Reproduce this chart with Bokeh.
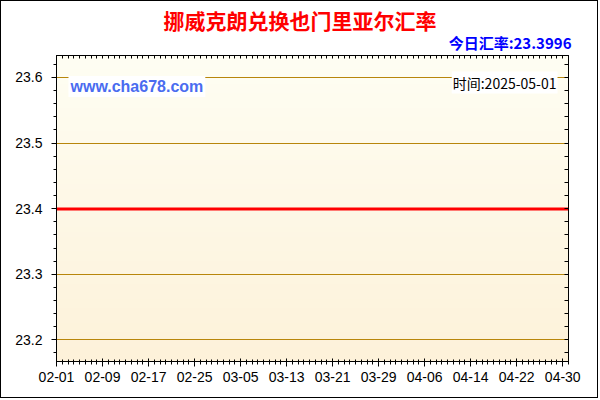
import numpy as np
import pandas as pd
from bokeh.plotting import figure
from bokeh.models import FixedTicker, LinearAxis, Label, Range1d, Title
from bokeh.embed import file_html
from bokeh.resources import INLINE

# ---------------- data ----------------
title_text = "挪威克朗兑换也门里亚尔汇率"
today_text = "今日汇率:23.3996"
site_text = "www.cha678.com"
time_text = "时间:2025-05-01"

dates = [d.strftime("%m-%d") for d in pd.date_range("2025-02-01", "2025-05-01")]
rates = [
    23.3996, 23.3996, 23.3996, 23.3996, 23.3996, 23.3996, 23.3996, 23.3996, 23.3996, 23.3996,
    23.3996, 23.3996, 23.3996, 23.3996, 23.3996, 23.3996, 23.3996, 23.3996, 23.3996, 23.3996,
    23.3996, 23.3996, 23.3996, 23.3996, 23.3996, 23.3996, 23.3996, 23.3996, 23.3996, 23.3996,
    23.3996, 23.3996, 23.3996, 23.3996, 23.3996, 23.3996, 23.3996, 23.3996, 23.3996, 23.3996,
    23.3996, 23.3996, 23.3996, 23.3996, 23.3996, 23.3996, 23.3996, 23.3996, 23.3996, 23.3996,
    23.3996, 23.3996, 23.3996, 23.3996, 23.3996, 23.3996, 23.3996, 23.3996, 23.3996, 23.3996,
    23.3996, 23.3996, 23.3996, 23.3996, 23.3996, 23.3996, 23.3996, 23.3996, 23.3996, 23.3996,
    23.3996, 23.3996, 23.3996, 23.3996, 23.3996, 23.3996, 23.3996, 23.3996, 23.3996, 23.3996,
    23.3996, 23.3996, 23.3996, 23.3996, 23.3996, 23.3996, 23.3996, 23.3996, 23.3996, 23.3996,
]
x_tick_labels = ["02-01", "02-09", "02-17", "02-25", "03-05", "03-13",
                 "03-21", "03-29", "04-06", "04-14", "04-22", "04-30"]
y_ticks = [23.2, 23.3, 23.4, 23.5, 23.6]
y_minor = [23.18, 23.20, 23.22, 23.24, 23.26, 23.28, 23.30, 23.32, 23.34, 23.36, 23.38,
           23.40, 23.42, 23.44, 23.46, 23.48, 23.50, 23.52, 23.54, 23.56, 23.58, 23.60, 23.62]

# ---------------- layout ----------------
W, H = 598, 398          # plus a 1px css border -> 600 x 400
OFF = 1                  # border offset
ML, MR, MT, MB = 55, 31, 54, 38
X0, X1 = 0, 89
Y0, Y1 = 23.167, 23.6335

day_idx = list(range(len(dates)))
x_ticks = [dates.index(lbl) for lbl in x_tick_labels]

p = figure(width=W, height=H, output_backend="svg", toolbar_location=None,
           x_range=Range1d(X0, X1), y_range=Range1d(Y0, Y1),
           min_border_left=ML, min_border_right=MR, min_border_top=MT, min_border_bottom=MB,
           border_fill_color="white", background_fill_color="#FEF9E8",
           outline_line_color="black", outline_line_width=1)
p.title = None
p.styles = {"border": "1px solid black"}

# background gradient
n = 64
top = np.array([255, 254, 243])
bot = np.array([253, 242, 218])
img = np.zeros((n, 1), dtype=np.uint32)
view = img.view(dtype=np.uint8).reshape((n, 1, 4))
for i in range(n):
    t = i / (n - 1)  # row 0 = bottom
    c = bot * (1 - t) + top * t
    view[i, 0, 0:3] = c.astype(np.uint8)
    view[i, 0, 3] = 255
p.image_rgba(image=[img], x=X0, y=Y0, dw=X1 - X0, dh=Y1 - Y0, level="image")

# line
p.line(day_idx, rates, line_color="#FF0000", line_width=3)

# grids
p.xgrid.visible = False
p.ygrid.ticker = FixedTicker(ticks=y_ticks)
p.ygrid.grid_line_color = "#B8860B"
p.ygrid.grid_line_width = 1

xt = FixedTicker(ticks=x_ticks, minor_ticks=day_idx)
yt = FixedTicker(ticks=y_ticks, minor_ticks=y_minor)

lab_font = "Liberation Sans"
xa = p.xaxis[0]
xa.ticker = xt
xa.major_label_overrides = {t: l for t, l in zip(x_ticks, x_tick_labels)}
xa.major_label_text_font = lab_font
xa.major_label_text_font_size = "14px"
xa.major_label_text_color = "#000000"
xa.major_label_standoff = 5
xa.major_tick_out = 5
xa.major_tick_in = 3
xa.minor_tick_out = 3
xa.minor_tick_in = 2
xa.axis_line_color = "black"

ya = p.yaxis[0]
ya.ticker = yt
ya.major_label_overrides = {v: f"{v:.1f}" for v in y_ticks}
ya.major_label_text_font = lab_font
ya.major_label_text_font_size = "14px"
ya.major_label_text_color = "#000000"
ya.major_label_standoff = 9
ya.major_tick_out = 5
ya.major_tick_in = 0
ya.minor_tick_out = 3
ya.minor_tick_in = 0
ya.axis_line_color = "black"

# unlabeled top / right axes: tick marks only (inside)
top_axis = LinearAxis(ticker=FixedTicker(ticks=[], minor_ticks=day_idx),
                      major_tick_in=0, major_tick_out=0, minor_tick_in=3, minor_tick_out=0)
p.add_layout(top_axis, "above")
right_axis = LinearAxis(ticker=FixedTicker(ticks=[], minor_ticks=y_minor),
                        major_tick_in=0, major_tick_out=0, minor_tick_in=4, minor_tick_out=0)
p.add_layout(right_axis, "right")

cjk = "Noto Sans CJK SC"
# titles (first added is closest to the plot frame)
p.add_layout(Title(text=today_text, align="right", text_font=cjk, text_font_size="15px",
                   text_font_style="bold", text_color="#0000FF", standoff=5, offset=-3), "above")
p.add_layout(Title(text=title_text, align="left", text_font=cjk, text_font_size="21px",
                   text_font_style="bold", text_color="#FF0000", standoff=-14, offset=107), "above")

# pixel (page coords) -> data helpers for annotation placement inside the frame
def px2x(px):
    return X0 + (px - OFF - ML) / (W - ML - MR) * (X1 - X0)

def px2y(py):
    return Y1 - (py - OFF - MT) / (H - MT - MB) * (Y1 - Y0)

p.add_layout(Label(x=px2x(68), y=px2y(86), text=site_text, text_font="Liberation Sans",
                   text_font_size="16px", text_font_style="bold", text_color="#4A6CF0",
                   text_align="left", text_baseline="middle",
                   background_fill_color="white", padding=2, level="overlay"))
p.add_layout(Label(x=px2x(557), y=px2y(82), text=time_text, text_font=cjk,
                   text_font_size="14px", text_color="#000000",
                   text_align="right", text_baseline="middle",
                   background_fill_color="white", padding=1, level="overlay"))

open("out.html", "w").write(file_html(p, INLINE))
